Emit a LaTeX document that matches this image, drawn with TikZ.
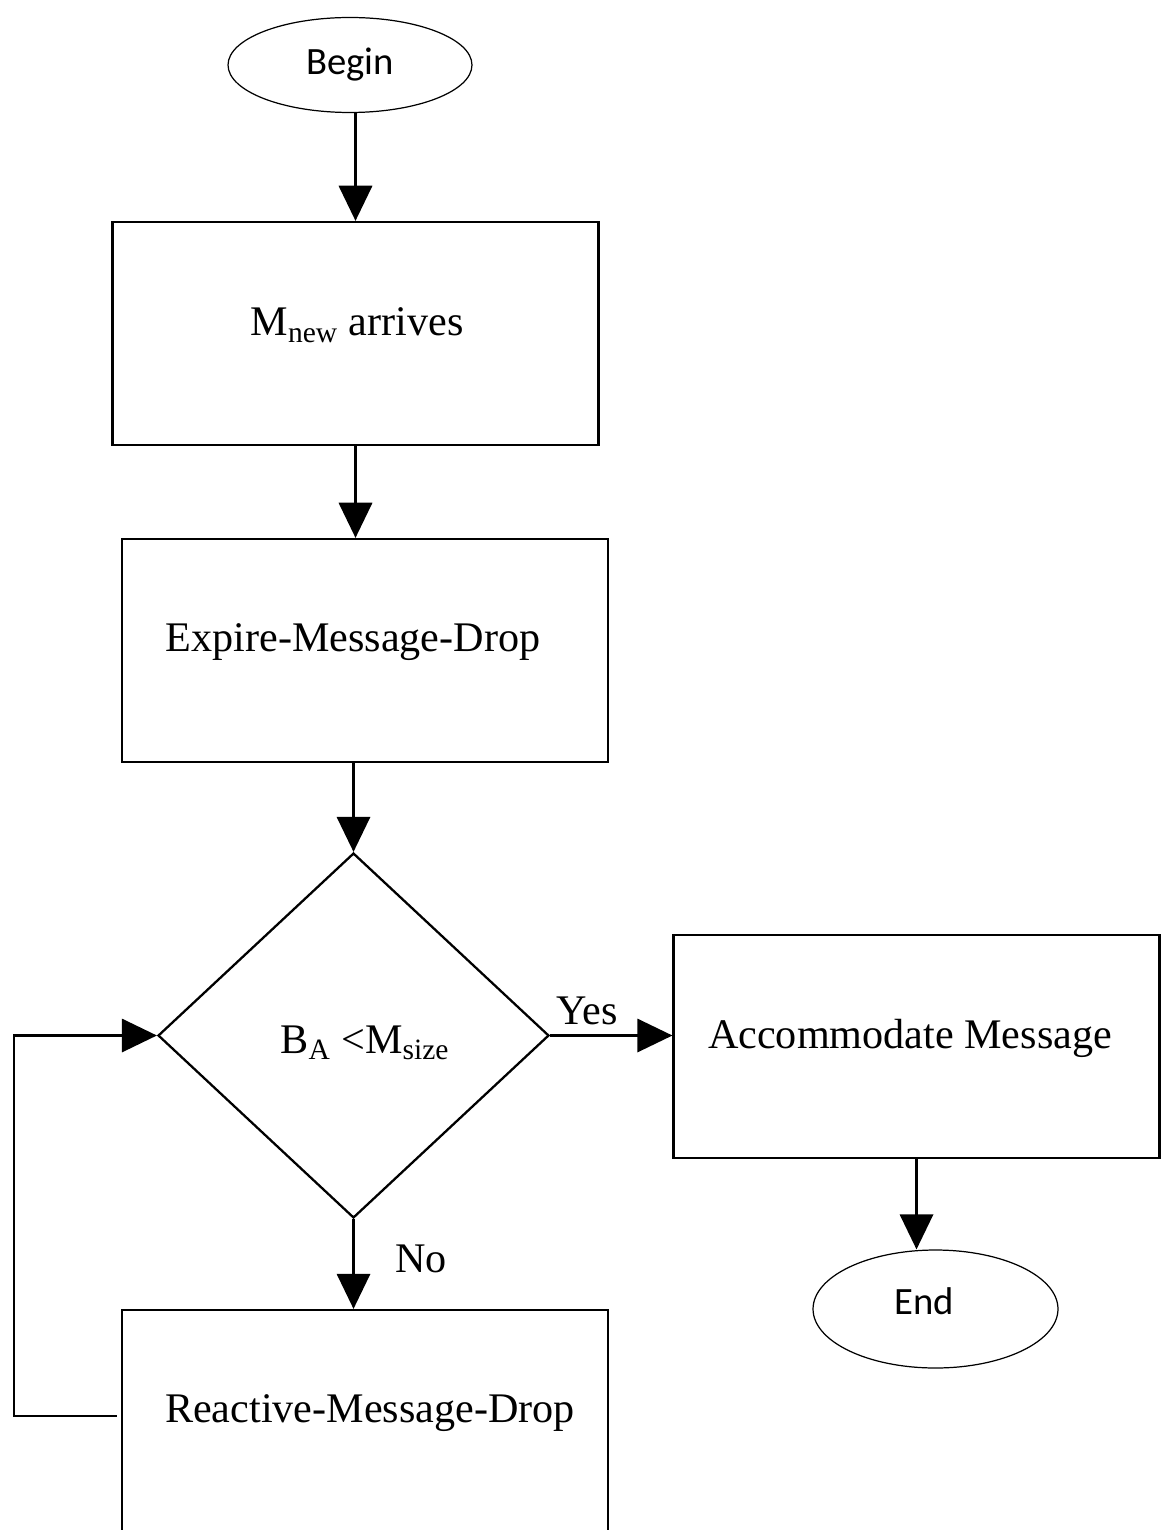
\documentclass[tikz,border=0pt]{standalone}
\usepackage{fontspec}
\setmainfont{Liberation Serif}
\newfontfamily\calibfont{Carlito}
\usetikzlibrary{shapes.geometric,arrows.meta}

\begin{document}
\begin{tikzpicture}[x=0.02cm,y=-0.02cm,
  box/.style={draw,line width=1.3pt,minimum width=9.72cm,minimum height=4.46cm,inner sep=0pt},
  term/.style={draw,ellipse,line width=0.7pt,inner sep=0pt,font=\calibfont\fontsize{22}{26}\selectfont},
  txt/.style={inner sep=0pt,font=\fontsize{24}{28}\selectfont},
  flow/.style={line width=1.3pt,-{Triangle[length=20pt,width=19pt]}}]
\useasboundingbox (0,0) rectangle (1166,1530);
\clip (0,0) rectangle (1166,1530);
% terminals
\node [term,minimum width=4.88cm,minimum height=1.9cm] (begin) at (350,65) {Begin};
\node [term,minimum width=4.9cm,minimum height=2.36cm] (end) at (935.5,1309) {};
\node [inner sep=0pt,font=\calibfont\fontsize{22}{26}\selectfont] (endtxt) at (924,1301) {End};
% process boxes
\node [box] (arrive) at (355.5,333.5) {};
\node [box] (expire) at (365,650.5) {};
\node [box] (accom) at (916.5,1046.5) {};
\node [box,minimum height=4.7cm] (react) at (365,1427.5) {};
\node [draw,diamond,line width=1.3pt,inner sep=0pt,minimum width=7.82cm,minimum height=7.3cm] (check) at (353.5,1035.5) {};
% texts
\node [txt] (arrivetxt) at (357,325) {M\textsubscript{new} arrives};
\node [txt] (expiretxt) at (353,642) {Expire-Message-Drop};
\node [txt] (checktxt) at (365,1043) {B\textsubscript{A} <M\textsubscript{size}};
\node [txt] (accomtxt) at (910,1038) {Accommodate Message};
\node [txt] (reacttxt) at (370,1413) {Reactive-Message-Drop};
\node [txt] (yes) at (587,1011) {Yes};
\node [txt] (no) at (421,1259) {No};
% connectors
\draw [flow] (begin.south -| arrive.north) -- (arrive.north);
\draw [flow] (arrive.south) -- (arrive.south |- expire.north);
\draw [flow] (check.north |- expire.south) -- (check.north);
\draw [flow] (check.east) -- (check.east -| accom.west);
\draw [flow] (accom.south) -- (accom.south |- end.north);
\draw [flow] (check.south) -- (check.south |- react.north);
\coordinate (back) at (14,1416);
\draw [flow] ([xshift=-0.08cm]react.west |- back) -- (back) |- (check.west);
\end{tikzpicture}
\end{document}
